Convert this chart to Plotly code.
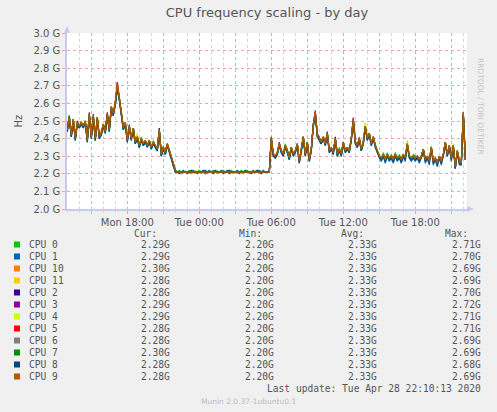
import pandas as pd
import plotly.graph_objects as go

# Munin "cpu frequency scaling" day graph, samples every 10 minutes
TIMES = pd.date_range("2020-04-27 13:00", periods=200, freq="10min")

CPU_NAMES = ["CPU 0", "CPU 1", "CPU 10", "CPU 11", "CPU 2", "CPU 3",
             "CPU 4", "CPU 5", "CPU 6", "CPU 7", "CPU 8", "CPU 9"]
CPU_COLORS = ["#00CC00", "#0066B3", "#FF8000", "#FFCC00", "#330099", "#990099",
              "#CCFF00", "#FF0000", "#808080", "#008F00", "#00487D", "#B35A00"]

# frequency in GHz
cpu0 = [2.46, 2.53, 2.41, 2.50, 2.41, 2.50, 2.46, 2.49, 2.48, 2.49,
        2.40, 2.53, 2.42, 2.52, 2.39, 2.51, 2.42, 2.42, 2.47, 2.45,
        2.53, 2.44, 2.57, 2.55, 2.59, 2.70, 2.62, 2.56, 2.45, 2.48,
        2.40, 2.46, 2.41, 2.45, 2.37, 2.42, 2.35, 2.41, 2.36, 2.38,
        2.37, 2.38, 2.34, 2.39, 2.35, 2.33, 2.44, 2.30, 2.36, 2.31,
        2.36, 2.34, 2.29, 2.24, 2.22, 2.21, 2.22, 2.21, 2.21, 2.21,
        2.21, 2.22, 2.21, 2.21, 2.21, 2.21, 2.22, 2.21, 2.21, 2.21,
        2.21, 2.21, 2.21, 2.22, 2.21, 2.21, 2.21, 2.21, 2.22, 2.21,
        2.21, 2.21, 2.22, 2.21, 2.21, 2.21, 2.21, 2.22, 2.21, 2.21,
        2.22, 2.21, 2.21, 2.21, 2.21, 2.22, 2.21, 2.21, 2.21, 2.21,
        2.21, 2.21, 2.41, 2.30, 2.31, 2.31, 2.36, 2.34, 2.30, 2.37,
        2.32, 2.30, 2.34, 2.32, 2.32, 2.36, 2.28, 2.32, 2.40, 2.32,
        2.37, 2.29, 2.33, 2.47, 2.54, 2.41, 2.41, 2.37, 2.40, 2.38,
        2.42, 2.34, 2.34, 2.33, 2.39, 2.30, 2.35, 2.30, 2.37, 2.34,
        2.34, 2.34, 2.39, 2.50, 2.39, 2.35, 2.41, 2.33, 2.37, 2.46,
        2.41, 2.42, 2.38, 2.40, 2.37, 2.32, 2.31, 2.28, 2.32, 2.29,
        2.32, 2.28, 2.31, 2.29, 2.32, 2.28, 2.31, 2.29, 2.30, 2.30,
        2.36, 2.31, 2.28, 2.31, 2.30, 2.29, 2.29, 2.29, 2.33, 2.29,
        2.29, 2.28, 2.34, 2.28, 2.28, 2.27, 2.29, 2.28, 2.30, 2.37,
        2.30, 2.35, 2.30, 2.35, 2.25, 2.32, 2.28, 2.27, 2.54, 2.29]
cpu1 = [2.44, 2.51, 2.41, 2.50, 2.39, 2.48, 2.46, 2.48, 2.46, 2.49,
        2.38, 2.53, 2.40, 2.52, 2.39, 2.51, 2.40, 2.42, 2.47, 2.43,
        2.53, 2.44, 2.57, 2.53, 2.59, 2.70, 2.62, 2.54, 2.45, 2.48,
        2.38, 2.46, 2.39, 2.45, 2.37, 2.40, 2.35, 2.39, 2.36, 2.38,
        2.35, 2.38, 2.34, 2.37, 2.35, 2.33, 2.44, 2.30, 2.34, 2.31,
        2.36, 2.32, 2.29, 2.24, 2.21, 2.21, 2.21, 2.21, 2.22, 2.21,
        2.21, 2.21, 2.21, 2.22, 2.21, 2.21, 2.21, 2.21, 2.21, 2.22,
        2.21, 2.22, 2.21, 2.21, 2.21, 2.21, 2.21, 2.22, 2.21, 2.21,
        2.22, 2.21, 2.21, 2.21, 2.21, 2.22, 2.21, 2.21, 2.21, 2.21,
        2.21, 2.21, 2.21, 2.22, 2.21, 2.21, 2.21, 2.21, 2.22, 2.21,
        2.21, 2.21, 2.39, 2.30, 2.29, 2.31, 2.36, 2.32, 2.30, 2.35,
        2.32, 2.28, 2.34, 2.30, 2.32, 2.36, 2.26, 2.32, 2.40, 2.30,
        2.37, 2.27, 2.33, 2.47, 2.54, 2.41, 2.39, 2.37, 2.40, 2.36,
        2.42, 2.32, 2.34, 2.31, 2.39, 2.30, 2.33, 2.30, 2.37, 2.32,
        2.34, 2.32, 2.39, 2.50, 2.37, 2.35, 2.39, 2.33, 2.37, 2.46,
        2.39, 2.42, 2.36, 2.40, 2.35, 2.32, 2.29, 2.27, 2.30, 2.26,
        2.30, 2.27, 2.29, 2.26, 2.30, 2.27, 2.29, 2.26, 2.30, 2.27,
        2.36, 2.29, 2.27, 2.29, 2.27, 2.29, 2.26, 2.29, 2.33, 2.26,
        2.29, 2.25, 2.34, 2.25, 2.28, 2.24, 2.29, 2.25, 2.30, 2.37,
        2.30, 2.35, 2.27, 2.35, 2.23, 2.32, 2.25, 2.25, 2.54, 2.28]
cpu10 = [2.45, 2.51, 2.42, 2.51, 2.41, 2.49, 2.47, 2.50, 2.47, 2.50,
         2.39, 2.54, 2.41, 2.52, 2.40, 2.52, 2.41, 2.44, 2.48, 2.44,
         2.54, 2.45, 2.58, 2.54, 2.61, 2.70, 2.63, 2.55, 2.46, 2.49,
         2.39, 2.47, 2.40, 2.46, 2.38, 2.41, 2.36, 2.40, 2.37, 2.39,
         2.36, 2.39, 2.35, 2.38, 2.36, 2.34, 2.45, 2.31, 2.35, 2.32,
         2.37, 2.33, 2.30, 2.25, 2.22, 2.21, 2.21, 2.20, 2.21, 2.21,
         2.21, 2.21, 2.20, 2.21, 2.21, 2.21, 2.21, 2.20, 2.21, 2.21,
         2.20, 2.21, 2.21, 2.21, 2.21, 2.20, 2.21, 2.21, 2.21, 2.21,
         2.21, 2.21, 2.21, 2.20, 2.21, 2.21, 2.21, 2.21, 2.20, 2.21,
         2.21, 2.20, 2.21, 2.21, 2.21, 2.21, 2.20, 2.21, 2.21, 2.21,
         2.21, 2.21, 2.40, 2.31, 2.30, 2.32, 2.37, 2.33, 2.31, 2.36,
         2.33, 2.29, 2.35, 2.31, 2.33, 2.37, 2.27, 2.33, 2.41, 2.31,
         2.38, 2.28, 2.34, 2.48, 2.54, 2.42, 2.40, 2.38, 2.41, 2.37,
         2.43, 2.33, 2.35, 2.32, 2.40, 2.31, 2.34, 2.31, 2.38, 2.33,
         2.35, 2.33, 2.40, 2.51, 2.38, 2.36, 2.40, 2.34, 2.38, 2.47,
         2.40, 2.43, 2.37, 2.41, 2.36, 2.33, 2.30, 2.29, 2.31, 2.28,
         2.31, 2.29, 2.30, 2.28, 2.31, 2.29, 2.30, 2.28, 2.31, 2.29,
         2.37, 2.30, 2.29, 2.30, 2.29, 2.30, 2.28, 2.30, 2.34, 2.28,
         2.30, 2.27, 2.35, 2.27, 2.29, 2.26, 2.30, 2.27, 2.31, 2.38,
         2.31, 2.36, 2.29, 2.36, 2.24, 2.33, 2.27, 2.26, 2.54, 2.30]
cpu11 = [2.45, 2.52, 2.43, 2.50, 2.40, 2.50, 2.47, 2.49, 2.48, 2.50,
         2.39, 2.53, 2.41, 2.53, 2.41, 2.52, 2.41, 2.43, 2.49, 2.44,
         2.54, 2.46, 2.58, 2.54, 2.60, 2.70, 2.64, 2.55, 2.46, 2.49,
         2.39, 2.47, 2.41, 2.46, 2.38, 2.43, 2.36, 2.40, 2.37, 2.39,
         2.36, 2.39, 2.35, 2.38, 2.36, 2.34, 2.45, 2.31, 2.35, 2.32,
         2.37, 2.33, 2.30, 2.25, 2.22, 2.21, 2.21, 2.21, 2.21, 2.21,
         2.21, 2.21, 2.21, 2.21, 2.22, 2.21, 2.21, 2.21, 2.21, 2.21,
         2.21, 2.21, 2.21, 2.21, 2.21, 2.22, 2.21, 2.21, 2.21, 2.21,
         2.21, 2.22, 2.21, 2.21, 2.21, 2.21, 2.21, 2.21, 2.21, 2.22,
         2.21, 2.21, 2.21, 2.21, 2.22, 2.21, 2.21, 2.21, 2.21, 2.21,
         2.21, 2.21, 2.40, 2.31, 2.30, 2.32, 2.37, 2.33, 2.31, 2.36,
         2.33, 2.29, 2.35, 2.31, 2.33, 2.37, 2.27, 2.33, 2.41, 2.31,
         2.38, 2.28, 2.34, 2.48, 2.55, 2.42, 2.40, 2.38, 2.41, 2.37,
         2.43, 2.33, 2.35, 2.32, 2.40, 2.31, 2.34, 2.31, 2.38, 2.33,
         2.35, 2.33, 2.40, 2.51, 2.38, 2.36, 2.40, 2.34, 2.38, 2.49,
         2.40, 2.43, 2.37, 2.41, 2.36, 2.33, 2.30, 2.29, 2.31, 2.28,
         2.31, 2.29, 2.30, 2.28, 2.31, 2.29, 2.30, 2.28, 2.31, 2.29,
         2.39, 2.30, 2.29, 2.30, 2.29, 2.30, 2.28, 2.30, 2.34, 2.28,
         2.30, 2.27, 2.36, 2.27, 2.29, 2.26, 2.30, 2.27, 2.31, 2.38,
         2.31, 2.36, 2.29, 2.37, 2.24, 2.33, 2.27, 2.26, 2.53, 2.28]
cpu2 = [2.45, 2.52, 2.42, 2.51, 2.40, 2.49, 2.47, 2.49, 2.47, 2.50,
        2.39, 2.54, 2.41, 2.53, 2.40, 2.52, 2.41, 2.43, 2.48, 2.44,
        2.54, 2.45, 2.58, 2.54, 2.60, 2.70, 2.63, 2.55, 2.46, 2.49,
        2.39, 2.47, 2.40, 2.46, 2.38, 2.41, 2.36, 2.40, 2.37, 2.39,
        2.36, 2.39, 2.35, 2.38, 2.36, 2.34, 2.46, 2.31, 2.35, 2.33,
        2.37, 2.33, 2.30, 2.25, 2.22, 2.21, 2.21, 2.21, 2.21, 2.21,
        2.21, 2.21, 2.21, 2.21, 2.21, 2.21, 2.21, 2.21, 2.21, 2.21,
        2.21, 2.21, 2.21, 2.21, 2.21, 2.21, 2.21, 2.21, 2.21, 2.21,
        2.21, 2.21, 2.21, 2.21, 2.21, 2.21, 2.21, 2.21, 2.21, 2.21,
        2.21, 2.21, 2.21, 2.21, 2.21, 2.21, 2.21, 2.21, 2.21, 2.21,
        2.21, 2.21, 2.40, 2.31, 2.30, 2.32, 2.37, 2.33, 2.31, 2.36,
        2.33, 2.29, 2.35, 2.31, 2.33, 2.37, 2.27, 2.33, 2.41, 2.31,
        2.38, 2.28, 2.34, 2.48, 2.55, 2.42, 2.40, 2.38, 2.41, 2.37,
        2.43, 2.33, 2.35, 2.32, 2.41, 2.31, 2.34, 2.31, 2.38, 2.33,
        2.35, 2.33, 2.40, 2.51, 2.38, 2.36, 2.40, 2.34, 2.38, 2.47,
        2.40, 2.43, 2.37, 2.41, 2.36, 2.33, 2.30, 2.29, 2.31, 2.28,
        2.31, 2.29, 2.30, 2.28, 2.31, 2.29, 2.30, 2.28, 2.31, 2.29,
        2.37, 2.30, 2.29, 2.30, 2.29, 2.30, 2.28, 2.30, 2.34, 2.28,
        2.30, 2.27, 2.35, 2.27, 2.29, 2.26, 2.30, 2.27, 2.31, 2.38,
        2.31, 2.36, 2.29, 2.36, 2.23, 2.33, 2.27, 2.26, 2.54, 2.28]
cpu3 = [2.45, 2.53, 2.42, 2.51, 2.40, 2.50, 2.47, 2.49, 2.47, 2.50,
        2.39, 2.55, 2.41, 2.54, 2.40, 2.52, 2.41, 2.43, 2.48, 2.44,
        2.55, 2.45, 2.58, 2.54, 2.60, 2.72, 2.63, 2.55, 2.47, 2.49,
        2.39, 2.48, 2.40, 2.46, 2.38, 2.41, 2.36, 2.40, 2.37, 2.39,
        2.36, 2.39, 2.35, 2.38, 2.36, 2.34, 2.45, 2.31, 2.35, 2.32,
        2.37, 2.33, 2.30, 2.25, 2.22, 2.21, 2.21, 2.21, 2.21, 2.21,
        2.21, 2.21, 2.21, 2.21, 2.21, 2.21, 2.21, 2.21, 2.21, 2.21,
        2.21, 2.21, 2.21, 2.21, 2.21, 2.21, 2.21, 2.21, 2.21, 2.21,
        2.21, 2.21, 2.21, 2.21, 2.21, 2.21, 2.21, 2.21, 2.21, 2.21,
        2.21, 2.21, 2.21, 2.21, 2.21, 2.21, 2.21, 2.21, 2.21, 2.21,
        2.21, 2.21, 2.40, 2.31, 2.30, 2.32, 2.38, 2.33, 2.31, 2.36,
        2.33, 2.29, 2.35, 2.31, 2.33, 2.37, 2.27, 2.33, 2.41, 2.31,
        2.38, 2.28, 2.34, 2.48, 2.55, 2.43, 2.40, 2.38, 2.41, 2.37,
        2.44, 2.33, 2.35, 2.32, 2.40, 2.31, 2.34, 2.31, 2.38, 2.33,
        2.35, 2.33, 2.40, 2.52, 2.38, 2.36, 2.40, 2.34, 2.38, 2.47,
        2.40, 2.43, 2.37, 2.41, 2.36, 2.33, 2.30, 2.29, 2.31, 2.28,
        2.31, 2.29, 2.30, 2.28, 2.31, 2.29, 2.30, 2.28, 2.31, 2.29,
        2.37, 2.30, 2.29, 2.30, 2.29, 2.30, 2.28, 2.30, 2.34, 2.28,
        2.30, 2.27, 2.35, 2.27, 2.29, 2.26, 2.30, 2.27, 2.31, 2.38,
        2.31, 2.36, 2.29, 2.36, 2.24, 2.33, 2.27, 2.26, 2.55, 2.29]
cpu4 = [2.45, 2.52, 2.42, 2.51, 2.40, 2.49, 2.47, 2.49, 2.47, 2.50,
        2.39, 2.54, 2.41, 2.53, 2.40, 2.52, 2.41, 2.43, 2.48, 2.44,
        2.54, 2.45, 2.58, 2.54, 2.60, 2.71, 2.63, 2.55, 2.46, 2.49,
        2.39, 2.47, 2.40, 2.46, 2.38, 2.42, 2.36, 2.40, 2.37, 2.39,
        2.36, 2.39, 2.35, 2.38, 2.36, 2.34, 2.45, 2.31, 2.35, 2.32,
        2.37, 2.33, 2.30, 2.25, 2.22, 2.21, 2.21, 2.21, 2.21, 2.21,
        2.21, 2.21, 2.21, 2.21, 2.21, 2.21, 2.21, 2.21, 2.21, 2.21,
        2.21, 2.21, 2.21, 2.21, 2.21, 2.21, 2.21, 2.21, 2.21, 2.21,
        2.21, 2.21, 2.21, 2.21, 2.21, 2.21, 2.21, 2.21, 2.21, 2.21,
        2.21, 2.21, 2.21, 2.21, 2.21, 2.21, 2.21, 2.21, 2.21, 2.21,
        2.21, 2.21, 2.40, 2.31, 2.30, 2.32, 2.37, 2.33, 2.31, 2.36,
        2.33, 2.29, 2.35, 2.31, 2.33, 2.37, 2.27, 2.33, 2.41, 2.31,
        2.38, 2.28, 2.34, 2.48, 2.54, 2.42, 2.40, 2.38, 2.41, 2.37,
        2.43, 2.33, 2.35, 2.32, 2.40, 2.31, 2.34, 2.31, 2.38, 2.33,
        2.35, 2.33, 2.40, 2.51, 2.38, 2.36, 2.40, 2.34, 2.38, 2.49,
        2.40, 2.43, 2.37, 2.41, 2.36, 2.33, 2.30, 2.29, 2.31, 2.28,
        2.31, 2.29, 2.30, 2.28, 2.31, 2.29, 2.30, 2.28, 2.31, 2.29,
        2.38, 2.30, 2.29, 2.30, 2.29, 2.30, 2.28, 2.30, 2.34, 2.28,
        2.30, 2.27, 2.35, 2.27, 2.29, 2.26, 2.30, 2.27, 2.31, 2.38,
        2.31, 2.36, 2.29, 2.37, 2.24, 2.33, 2.27, 2.26, 2.54, 2.29]
cpu5 = [2.45, 2.52, 2.42, 2.51, 2.40, 2.49, 2.47, 2.49, 2.47, 2.50,
        2.39, 2.54, 2.41, 2.53, 2.40, 2.52, 2.41, 2.43, 2.48, 2.44,
        2.54, 2.45, 2.58, 2.54, 2.60, 2.72, 2.63, 2.55, 2.46, 2.49,
        2.39, 2.47, 2.40, 2.46, 2.38, 2.41, 2.36, 2.40, 2.37, 2.39,
        2.36, 2.39, 2.35, 2.38, 2.36, 2.34, 2.45, 2.31, 2.35, 2.32,
        2.37, 2.33, 2.30, 2.25, 2.22, 2.21, 2.20, 2.21, 2.21, 2.21,
        2.20, 2.21, 2.21, 2.21, 2.21, 2.20, 2.21, 2.21, 2.21, 2.20,
        2.21, 2.21, 2.21, 2.20, 2.21, 2.21, 2.21, 2.21, 2.20, 2.21,
        2.21, 2.20, 2.21, 2.21, 2.21, 2.21, 2.20, 2.21, 2.21, 2.21,
        2.21, 2.21, 2.20, 2.21, 2.21, 2.21, 2.21, 2.20, 2.21, 2.21,
        2.21, 2.21, 2.40, 2.31, 2.30, 2.32, 2.37, 2.33, 2.31, 2.36,
        2.33, 2.29, 2.35, 2.31, 2.33, 2.37, 2.27, 2.33, 2.41, 2.31,
        2.38, 2.28, 2.34, 2.48, 2.56, 2.42, 2.40, 2.38, 2.41, 2.37,
        2.43, 2.33, 2.35, 2.32, 2.40, 2.31, 2.34, 2.31, 2.38, 2.33,
        2.35, 2.33, 2.40, 2.51, 2.38, 2.36, 2.40, 2.34, 2.38, 2.47,
        2.40, 2.43, 2.37, 2.41, 2.36, 2.33, 2.30, 2.29, 2.31, 2.28,
        2.31, 2.29, 2.30, 2.28, 2.31, 2.29, 2.30, 2.27, 2.31, 2.29,
        2.37, 2.30, 2.29, 2.30, 2.29, 2.30, 2.28, 2.30, 2.34, 2.28,
        2.30, 2.27, 2.35, 2.27, 2.29, 2.26, 2.30, 2.27, 2.31, 2.38,
        2.31, 2.36, 2.29, 2.36, 2.24, 2.33, 2.27, 2.26, 2.55, 2.28]
cpu6 = [2.45, 2.51, 2.42, 2.50, 2.40, 2.49, 2.47, 2.49, 2.47, 2.49,
        2.39, 2.53, 2.41, 2.53, 2.40, 2.51, 2.41, 2.43, 2.48, 2.44,
        2.54, 2.45, 2.58, 2.54, 2.60, 2.70, 2.63, 2.55, 2.46, 2.49,
        2.39, 2.47, 2.40, 2.46, 2.38, 2.41, 2.36, 2.40, 2.37, 2.39,
        2.36, 2.39, 2.35, 2.38, 2.36, 2.34, 2.45, 2.31, 2.35, 2.32,
        2.37, 2.33, 2.30, 2.25, 2.22, 2.21, 2.21, 2.21, 2.21, 2.21,
        2.21, 2.21, 2.21, 2.21, 2.21, 2.21, 2.21, 2.21, 2.21, 2.21,
        2.21, 2.21, 2.21, 2.21, 2.21, 2.21, 2.21, 2.21, 2.21, 2.21,
        2.21, 2.21, 2.21, 2.21, 2.21, 2.21, 2.21, 2.21, 2.21, 2.21,
        2.21, 2.21, 2.21, 2.21, 2.21, 2.21, 2.21, 2.21, 2.21, 2.21,
        2.21, 2.21, 2.40, 2.31, 2.30, 2.32, 2.37, 2.33, 2.31, 2.36,
        2.33, 2.29, 2.35, 2.31, 2.33, 2.37, 2.27, 2.33, 2.41, 2.31,
        2.38, 2.28, 2.34, 2.48, 2.54, 2.42, 2.40, 2.38, 2.41, 2.37,
        2.43, 2.33, 2.35, 2.32, 2.40, 2.31, 2.34, 2.31, 2.38, 2.33,
        2.35, 2.33, 2.40, 2.51, 2.38, 2.36, 2.40, 2.34, 2.38, 2.47,
        2.40, 2.43, 2.37, 2.41, 2.36, 2.33, 2.30, 2.29, 2.31, 2.28,
        2.31, 2.29, 2.30, 2.28, 2.31, 2.29, 2.30, 2.28, 2.31, 2.29,
        2.37, 2.30, 2.29, 2.30, 2.29, 2.30, 2.28, 2.30, 2.34, 2.28,
        2.30, 2.27, 2.35, 2.27, 2.29, 2.26, 2.30, 2.27, 2.31, 2.38,
        2.31, 2.36, 2.29, 2.36, 2.24, 2.33, 2.27, 2.26, 2.53, 2.28]
cpu7 = [2.46, 2.53, 2.42, 2.51, 2.40, 2.49, 2.47, 2.49, 2.47, 2.50,
        2.39, 2.54, 2.41, 2.53, 2.40, 2.52, 2.41, 2.43, 2.48, 2.44,
        2.54, 2.45, 2.58, 2.54, 2.60, 2.70, 2.63, 2.55, 2.46, 2.49,
        2.39, 2.47, 2.40, 2.46, 2.38, 2.41, 2.35, 2.40, 2.37, 2.39,
        2.36, 2.39, 2.35, 2.38, 2.36, 2.34, 2.45, 2.31, 2.35, 2.32,
        2.37, 2.33, 2.30, 2.25, 2.22, 2.21, 2.21, 2.21, 2.21, 2.21,
        2.21, 2.21, 2.21, 2.21, 2.21, 2.21, 2.21, 2.21, 2.21, 2.21,
        2.21, 2.21, 2.21, 2.21, 2.21, 2.21, 2.21, 2.21, 2.21, 2.21,
        2.21, 2.21, 2.21, 2.21, 2.21, 2.21, 2.21, 2.21, 2.21, 2.21,
        2.21, 2.21, 2.21, 2.21, 2.21, 2.21, 2.22, 2.21, 2.21, 2.21,
        2.21, 2.21, 2.41, 2.31, 2.30, 2.32, 2.37, 2.33, 2.31, 2.36,
        2.34, 2.29, 2.35, 2.31, 2.33, 2.37, 2.27, 2.33, 2.41, 2.31,
        2.38, 2.28, 2.34, 2.48, 2.54, 2.42, 2.40, 2.38, 2.41, 2.37,
        2.43, 2.33, 2.35, 2.32, 2.40, 2.31, 2.34, 2.31, 2.38, 2.33,
        2.35, 2.33, 2.40, 2.51, 2.38, 2.36, 2.40, 2.34, 2.38, 2.47,
        2.40, 2.43, 2.37, 2.41, 2.36, 2.33, 2.30, 2.29, 2.31, 2.28,
        2.31, 2.29, 2.30, 2.28, 2.31, 2.29, 2.30, 2.28, 2.31, 2.29,
        2.37, 2.30, 2.29, 2.30, 2.29, 2.30, 2.28, 2.30, 2.34, 2.28,
        2.30, 2.27, 2.35, 2.27, 2.29, 2.26, 2.30, 2.27, 2.31, 2.38,
        2.31, 2.36, 2.29, 2.36, 2.24, 2.33, 2.27, 2.26, 2.54, 2.30]
cpu8 = [2.44, 2.51, 2.41, 2.50, 2.39, 2.48, 2.46, 2.48, 2.46, 2.49,
        2.38, 2.53, 2.40, 2.52, 2.39, 2.51, 2.40, 2.42, 2.47, 2.43,
        2.53, 2.44, 2.57, 2.53, 2.59, 2.68, 2.62, 2.54, 2.45, 2.48,
        2.38, 2.46, 2.39, 2.45, 2.37, 2.40, 2.35, 2.39, 2.36, 2.38,
        2.35, 2.38, 2.34, 2.37, 2.35, 2.33, 2.44, 2.30, 2.34, 2.31,
        2.36, 2.32, 2.29, 2.24, 2.21, 2.21, 2.21, 2.21, 2.21, 2.21,
        2.21, 2.21, 2.22, 2.21, 2.21, 2.21, 2.21, 2.21, 2.22, 2.21,
        2.21, 2.21, 2.21, 2.21, 2.22, 2.21, 2.21, 2.21, 2.21, 2.21,
        2.21, 2.22, 2.21, 2.21, 2.21, 2.21, 2.21, 2.21, 2.21, 2.22,
        2.21, 2.21, 2.21, 2.21, 2.21, 2.22, 2.21, 2.21, 2.21, 2.21,
        2.21, 2.21, 2.39, 2.30, 2.29, 2.31, 2.36, 2.32, 2.30, 2.35,
        2.32, 2.28, 2.34, 2.30, 2.32, 2.36, 2.26, 2.32, 2.40, 2.30,
        2.37, 2.27, 2.33, 2.47, 2.54, 2.41, 2.39, 2.37, 2.40, 2.36,
        2.42, 2.32, 2.34, 2.31, 2.39, 2.30, 2.33, 2.30, 2.37, 2.32,
        2.34, 2.32, 2.39, 2.50, 2.37, 2.35, 2.39, 2.33, 2.37, 2.46,
        2.39, 2.42, 2.36, 2.40, 2.35, 2.32, 2.29, 2.28, 2.30, 2.27,
        2.30, 2.28, 2.29, 2.27, 2.30, 2.28, 2.29, 2.27, 2.30, 2.28,
        2.36, 2.29, 2.28, 2.29, 2.28, 2.29, 2.27, 2.29, 2.33, 2.27,
        2.29, 2.26, 2.34, 2.26, 2.28, 2.25, 2.29, 2.26, 2.30, 2.37,
        2.30, 2.35, 2.28, 2.35, 2.23, 2.32, 2.26, 2.25, 2.53, 2.28]
cpu9 = [2.45, 2.52, 2.42, 2.51, 2.40, 2.49, 2.47, 2.49, 2.47, 2.50,
        2.39, 2.54, 2.41, 2.53, 2.40, 2.52, 2.41, 2.43, 2.48, 2.44,
        2.54, 2.45, 2.58, 2.54, 2.60, 2.71, 2.63, 2.55, 2.46, 2.49,
        2.39, 2.47, 2.40, 2.46, 2.38, 2.41, 2.36, 2.40, 2.37, 2.39,
        2.36, 2.39, 2.35, 2.38, 2.36, 2.34, 2.45, 2.31, 2.35, 2.32,
        2.37, 2.33, 2.30, 2.25, 2.22, 2.21, 2.21, 2.21, 2.21, 2.21,
        2.21, 2.21, 2.21, 2.21, 2.21, 2.21, 2.21, 2.21, 2.21, 2.21,
        2.21, 2.21, 2.21, 2.21, 2.21, 2.21, 2.21, 2.21, 2.21, 2.21,
        2.21, 2.21, 2.21, 2.21, 2.21, 2.21, 2.21, 2.21, 2.21, 2.21,
        2.21, 2.21, 2.21, 2.21, 2.21, 2.21, 2.21, 2.21, 2.21, 2.21,
        2.21, 2.21, 2.40, 2.31, 2.30, 2.32, 2.37, 2.33, 2.31, 2.36,
        2.33, 2.29, 2.35, 2.31, 2.33, 2.37, 2.27, 2.33, 2.41, 2.31,
        2.38, 2.28, 2.34, 2.48, 2.55, 2.42, 2.40, 2.38, 2.41, 2.37,
        2.43, 2.33, 2.35, 2.32, 2.40, 2.31, 2.34, 2.31, 2.38, 2.33,
        2.35, 2.33, 2.40, 2.51, 2.38, 2.36, 2.40, 2.34, 2.38, 2.47,
        2.40, 2.43, 2.37, 2.41, 2.36, 2.33, 2.30, 2.29, 2.31, 2.28,
        2.31, 2.29, 2.30, 2.28, 2.31, 2.29, 2.30, 2.28, 2.31, 2.29,
        2.37, 2.30, 2.29, 2.30, 2.29, 2.30, 2.28, 2.30, 2.34, 2.28,
        2.30, 2.27, 2.35, 2.27, 2.29, 2.26, 2.30, 2.27, 2.31, 2.38,
        2.31, 2.36, 2.29, 2.36, 2.24, 2.33, 2.27, 2.26, 2.55, 2.28]

SERIES = [cpu0, cpu1, cpu10, cpu11, cpu2, cpu3, cpu4, cpu5, cpu6, cpu7, cpu8, cpu9]

# legend table values (Cur, Min, Avg, Max)
CUR = ["2.29G", "2.29G", "2.30G", "2.28G", "2.28G", "2.29G",
       "2.29G", "2.28G", "2.28G", "2.30G", "2.28G", "2.28G"]
MIN = ["2.20G"] * 12
AVG = ["2.33G"] * 12
MAX = ["2.71G", "2.70G", "2.69G", "2.69G", "2.70G", "2.72G",
       "2.71G", "2.71G", "2.69G", "2.69G", "2.68G", "2.69G"]

Y_TICKS = [2.0, 2.1, 2.2, 2.3, 2.4, 2.5, 2.6, 2.7, 2.8, 2.9, 3.0]
Y_TICK_LABELS = ["2.0 G", "2.1 G", "2.2 G", "2.3 G", "2.4 G", "2.5 G",
                 "2.6 G", "2.7 G", "2.8 G", "2.9 G", "3.0 G"]
X_TICKS = pd.date_range("2020-04-27 15:00", "2020-04-28 21:00", freq="3h")
X_TICK_LABELS = ["", "Mon 18:00", "", "Tue 00:00", "", "Tue 06:00",
                 "", "Tue 12:00", "", "Tue 18:00", ""]

W, H = 497, 412
L, R, T, B = 67, 30, 33, 203
PW, PH = W - L - R, H - T - B
TEXT = "#555555"
MONO = "DejaVu Sans Mono"


def px(x):
    return (x - L) / PW


def py(y):
    return (H - B - y) / PH


fig = go.Figure()
for name, color, vals in zip(CPU_NAMES, CPU_COLORS, SERIES):
    fig.add_trace(go.Scatter(x=TIMES, y=vals, name=name, mode="lines",
                             line=dict(color=color, width=1.2), showlegend=False))

fig.update_layout(
    width=W, height=H,
    margin=dict(l=L, r=R, t=T, b=B),
    paper_bgcolor="#F0F0F0",
    plot_bgcolor="#FFFFFF",
    font=dict(family="DejaVu Sans", size=10, color=TEXT),
    title=dict(text="CPU frequency scaling - by day", x=0.5, xref="paper",
               xanchor="center", y=1 - 12 / H, yanchor="middle",
               font=dict(size=13, color=TEXT)),
    hovermode=False,
)

fig.update_xaxes(
    range=["2020-04-27 12:58:30", "2020-04-28 22:18:30"],
    tickmode="array", tickvals=X_TICKS, ticktext=X_TICK_LABELS,
    showgrid=True, gridcolor="#E8A8A8", griddash="dot", gridwidth=1,
    ticks="outside", ticklen=3, tickcolor="#E8A8A8",
    tickfont=dict(size=10, color=TEXT),
    minor=dict(dtick=3600000, tick0="2020-04-27 13:00", showgrid=True,
               gridcolor="#D4D4D4", griddash="dot", ticks="outside",
               ticklen=2, tickcolor="#D4D4D4"),
    showline=True, linecolor="#C8C8F4", linewidth=1.5,
    zeroline=False,
)
fig.update_yaxes(
    range=[2.0, 3.0],
    tickmode="array", tickvals=Y_TICKS, ticktext=Y_TICK_LABELS,
    showgrid=True, gridcolor="#E8A8A8", griddash="dot", gridwidth=1,
    ticks="outside", ticklen=3, tickcolor="#E8A8A8",
    tickfont=dict(size=10, color=TEXT),
    showline=True, linecolor="#C8C8F4", linewidth=1.5,
    zeroline=False,
)

shapes = [
    # axis arrows
    dict(type="path", xref="paper", yref="paper",
         path=f"M {px(64)} {py(33)} L {px(70)} {py(33)} L {px(67)} {py(26)} Z",
         fillcolor="#C8C8F4", line=dict(width=0)),
    dict(type="path", xref="paper", yref="paper",
         path=f"M {px(467)} {py(206)} L {px(467)} {py(212)} L {px(474)} {py(209)} Z",
         fillcolor="#C8C8F4", line=dict(width=0)),
]

annotations = [
    dict(text="Hz", x=px(10), y=py(121), xref="paper", yref="paper",
         showarrow=False, textangle=-90, font=dict(size=10, color=TEXT)),
    dict(text="RRDTOOL / TOBI OETIKER", x=px(487), y=py(56), xref="paper",
         yref="paper", showarrow=False, textangle=90,
         font=dict(size=7.5, color="#C4C4C4")),
]

# legend table
col_right = [171.7, 276, 378.7, 482.7]
headers = ["Cur:", "Min:", "Avg:", "Max:"]
for cx, htxt in zip(col_right, headers):
    annotations.append(dict(text=htxt, x=px(cx - 12.4), y=py(233.5), xref="paper",
                            yref="paper", xanchor="right", yanchor="middle",
                            showarrow=False, font=dict(family=MONO, size=9.6, color=TEXT)))

for i, (name, color) in enumerate(zip(CPU_NAMES, CPU_COLORS)):
    ry = 244.5 + 12 * i
    shapes.append(dict(type="rect", xref="paper", yref="paper",
                       x0=px(14), x1=px(20), y0=py(ry + 3), y1=py(ry - 3),
                       fillcolor=color, line=dict(width=0)))
    annotations.append(dict(text=name, x=px(26.5), y=py(ry), xref="paper",
                            yref="paper", xanchor="left", yanchor="middle",
                            showarrow=False, font=dict(family=MONO, size=9.6, color=TEXT)))
    for cx, col in zip(col_right, [CUR, MIN, AVG, MAX]):
        annotations.append(dict(text=col[i], x=px(cx), y=py(ry), xref="paper",
                                yref="paper", xanchor="right", yanchor="middle",
                                showarrow=False,
                                font=dict(family=MONO, size=9.6, color=TEXT)))

annotations.append(dict(text="Last update: Tue Apr 28 22:10:13 2020", x=px(482.7),
                        y=py(388.5), xref="paper", yref="paper", xanchor="right",
                        yanchor="middle", showarrow=False,
                        font=dict(family=MONO, size=9.6, color=TEXT)))
annotations.append(dict(text="Munin 2.0.37-1ubuntu0.1", x=px(248.5), y=py(401.5),
                        xref="paper", yref="paper", xanchor="center",
                        yanchor="middle", showarrow=False,
                        font=dict(size=7.5, color="#BBBBBB")))

fig.update_layout(shapes=shapes, annotations=annotations)

# page body has an 8px default margin; drop it so the chart sits at the corner
fig.write_html("out.html", config={"displayModeBar": False},
               post_script="document.body.style.margin = '0px';")
